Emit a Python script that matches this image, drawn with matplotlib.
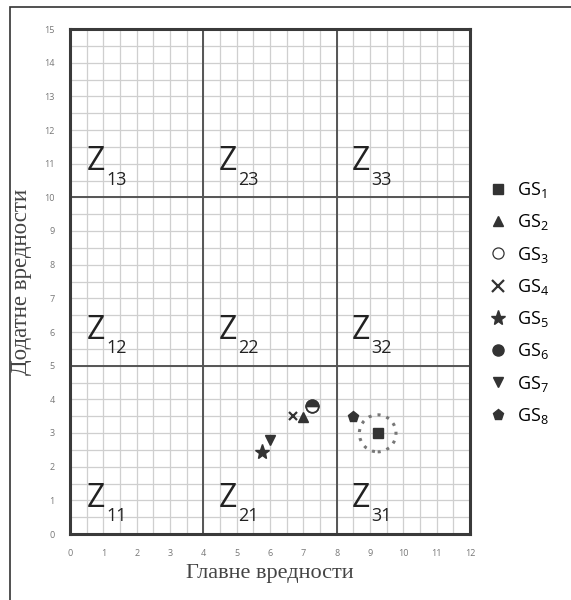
import matplotlib.pyplot as plt
from matplotlib.lines import Line2D
from matplotlib.patches import Circle, Rectangle

plt.rcParams['font.family'] = ['Open Sans', 'DejaVu Sans']
plt.rcParams['mathtext.fontset'] = 'custom'
plt.rcParams['mathtext.rm'] = 'Open Sans'

# points
gs_names = ['1', '2', '3', '4', '5', '6', '7', '8']
gs_x = [9.23, 7.0, 7.25, 6.7, 5.75, 7.25, 6.0, 8.48]
gs_y = [2.99, 3.47, 3.8, 3.5, 2.44, 3.8, 2.8, 3.48]
gs_markers = ['s', '^', 'o', 'x', '*', 'o', 'v', 'p']

# zone labels (Z_ij) at column i, row j
zone_cols = [1, 2, 3]
zone_rows = [1, 2, 3]
zone_x = [0.5, 4.45, 8.45]
zone_y = [1.05, 6.05, 11.05]

x_ticks = list(range(0, 13))
y_ticks = list(range(0, 16))

dark = '#333333'

fig = plt.figure(figsize=(5.71, 6.0), dpi=100)
ax = fig.add_axes([70 / 571, 1 - 534 / 600, 400 / 571, 505 / 600])

# fine grid every 0.5
for v in [i * 0.5 for i in range(1, 24)]:
    ax.axvline(v, color='#cfcfcf', lw=0.9, zorder=0)
for v in [i * 0.5 for i in range(1, 30)]:
    ax.axhline(v, color='#cfcfcf', lw=0.9, zorder=0)
# zone borders
for v in [4, 8]:
    ax.axvline(v, color='#555555', lw=1.4, zorder=1)
for v in [5, 10]:
    ax.axhline(v, color='#555555', lw=1.4, zorder=1)

ax.set_xlim(0, 12)
ax.set_ylim(0, 15)
ax.set_xticks(x_ticks)
ax.set_yticks(y_ticks)
ax.tick_params(length=0, labelsize=6.5, labelcolor='#777777', pad=11)
for s in ax.spines.values():
    s.set_linewidth(2.2)
    s.set_color('#3a3a3a')

for i, zx in zip(zone_cols, zone_x):
    for j, zy in zip(zone_rows, zone_y):
        ax.text(zx, zy, 'Z', fontsize=23, color='#222222', va='center', ha='left')
        ax.text(zx + 0.6, zy - 0.53, f'{i}{j}', fontsize=13, color='#222222',
                va='center', ha='left')

handles = []
for k in range(len(gs_names)):
    m = gs_markers[k]
    ms = 11 if m == '*' else (8 if m == 'p' else 7.5)
    if k == 2:
        # open circle
        ax.plot(gs_x[k], gs_y[k], marker='o', ms=9, mfc='white', mec=dark, mew=1.2,
                ls='none', zorder=4)
        h = Line2D([], [], marker='o', ms=8, mfc='white', mec=dark, mew=0.9, ls='none')
    elif k == 5:
        # filled circle overlapping GS3, shows as top half
        ax.plot(gs_x[k], gs_y[k], marker='o', ms=9, fillstyle='top', mfc=dark,
                mfcalt='white', mec=dark, mew=1.2, ls='none', zorder=5)
        h = Line2D([], [], marker='o', ms=8, color=dark, ls='none')
    elif m == 'x':
        ax.plot(gs_x[k], gs_y[k], marker='x', ms=6, mew=1.6, color=dark, ls='none', zorder=4)
        h = Line2D([], [], marker='x', ms=8, mew=1.6, color=dark, ls='none')
    else:
        ax.plot(gs_x[k], gs_y[k], marker=m, ms=ms, color=dark, ls='none', zorder=4)
        h = Line2D([], [], marker=m, ms=ms, color=dark, ls='none')
    handles.append(h)

# dotted ring around GS1
ax.add_patch(Circle((gs_x[0], gs_y[0]), 0.55, fill=False, ls=(0, (1, 2)), lw=2.2,
                    ec='#777777', zorder=3))

labels = [r'$\mathregular{GS_{' + n + '}}$' for n in gs_names]
fig.legend(handles, labels, loc='center left', bbox_to_anchor=(487 / 571, 1 - 303 / 600),
           frameon=False, fontsize=13, labelspacing=0.68, handletextpad=0.45,
           handlelength=1.2, borderaxespad=0, borderpad=0)

ax.set_xlabel('Главне вредности', family='Liberation Serif', fontsize=16,
              color='#444444', labelpad=4)
ax.set_ylabel('Додатне вредности', family='Liberation Serif', fontsize=16.5,
              color='#444444', labelpad=9)

fig.patches.append(Rectangle((10 / 571, -0.05), 2, 1.05 - 7 / 600, transform=fig.transFigure,
                             fill=False, ec='#333333', lw=1.2))

fig.savefig('out.png', dpi=100)
